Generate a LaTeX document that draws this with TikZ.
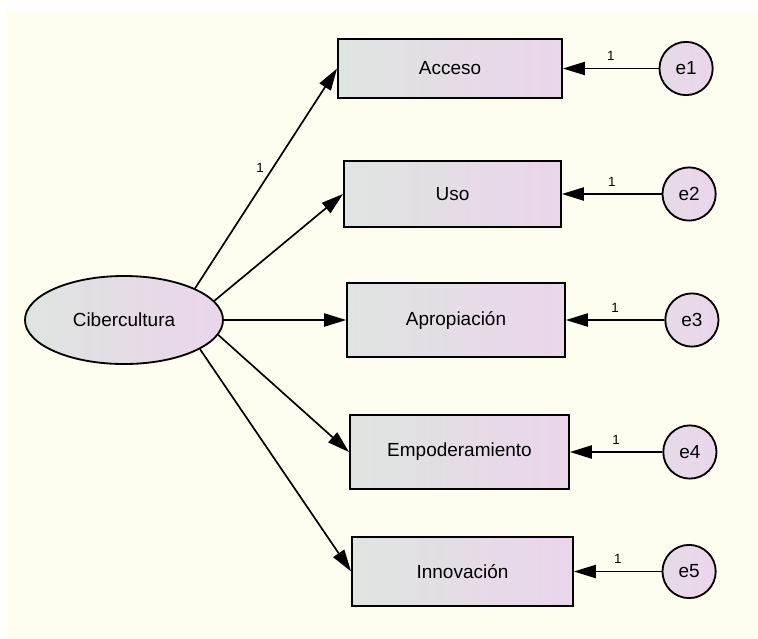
\documentclass[tikz,border=0pt]{standalone}
\usepackage{fontspec}
\setmainfont{Liberation Sans}
\usepackage{tikz}
\usetikzlibrary{
	shapes.geometric,
	arrows.meta,
	positioning
}

\definecolor{paper}{RGB}{254,253,239}
\definecolor{fillL}{RGB}{222,228,224}
\definecolor{fillR}{RGB}{235,213,235}

\begin{document}
\begin{tikzpicture}[
			x=0.025cm, y=-0.025cm,
			latent/.style={
				ellipse, draw, line width=1.3pt, inner sep=0pt,
				minimum width=4.95cm, minimum height=2.2cm,
				left color=fillL, right color=fillR,
				font=\fontsize{13.5}{16}\selectfont
			},
			obs/.style={
				rectangle, draw, line width=1.3pt, inner sep=0pt,
				minimum width=5.5cm, minimum height=1.75cm,
				left color=fillL, right color=fillR,
				font=\fontsize{13.5}{16}\selectfont
			},
			err/.style={
				circle, draw, line width=1.3pt, inner sep=0pt,
				minimum size=1.33cm,
				left color=fillL!40!fillR, right color=fillR,
				font=\fontsize{13.5}{16}\selectfont
			},
			arrow/.style={-{Triangle[length=5.5mm, width=3.3mm]}, line width=1.2pt},
			wt/.style={font=\fontsize{9.5}{11}\selectfont, inner sep=1pt}
			]
			
			% ---------------- page ----------------
			\useasboundingbox (0,0) rectangle (758,639);
			\fill[paper] (7,11) rectangle (762,643);
			
			% ---------------- latent ----------------
			\node[latent] (cib) at (124,320) {Cibercultura};
			
			% ---------------- indicators ----------------
			\node[obs, minimum width=5.6cm, minimum height=1.475cm] (acc) at (450,68.5) {Acceso};
			\node[obs, minimum width=5.425cm, minimum height=1.65cm] (uso) at (452.5,194) {Uso};
			\node[obs, minimum width=5.45cm, minimum height=1.85cm] (apr) at (456,320) {Apropiación};
			\node[obs, minimum width=5.475cm, minimum height=1.85cm] (emp) at (459.5,452) {Empoderamiento};
			\node[obs, minimum width=5.525cm, minimum height=1.725cm] (inn) at (462.5,571.5) {Innovación};
			
			% ---------------- errors ----------------
			\node[err, right=2.39cm of acc] (e1) {e1};
			\node[err, right=2.49cm of uso] (e2) {e2};
			\node[err, right=2.46cm of apr] (e3) {e3};
			\node[err, right=2.31cm of emp] (e4) {e4};
			\node[err, right=2.19cm of inn] (e5) {e5};
			
			% ---------------- loadings ----------------
			\draw[arrow] (cib.24) -- node[wt, pos=0.55, left=5pt] {1} (acc.west);
			\draw[arrow] (cib.12) -- (uso.west);
			\draw[arrow] (cib.0) -- (apr.west);
			\draw[arrow] (cib.-9) -- (emp.west);
			\draw[arrow] (cib.-21) -- (inn.west);
			
			% ---------------- error paths ----------------
			\draw[arrow] (e1) -- node[wt, pos=0.5, above=4pt] {1} (acc);
			\draw[arrow] (e2) -- node[wt, pos=0.5, above=4pt] {1} (uso);
			\draw[arrow] (e3) -- node[wt, pos=0.5, above=4pt] {1} (apr);
			\draw[arrow] (e4) -- node[wt, pos=0.5, above=4pt] {1} (emp);
			\draw[arrow] (e5) -- node[wt, pos=0.5, above=4pt] {1} (inn);
		\end{tikzpicture}
\end{document}
